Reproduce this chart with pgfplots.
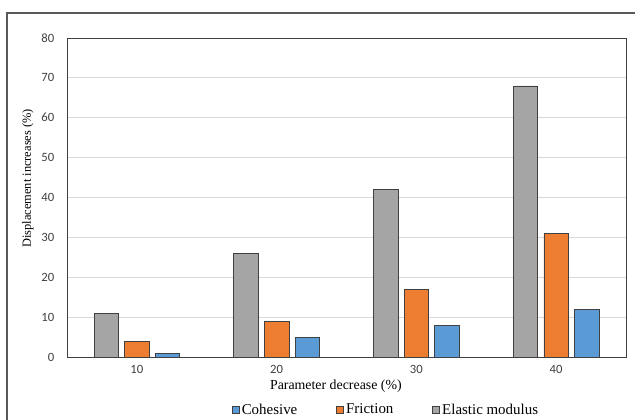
\documentclass[border=0pt]{standalone}
\usepackage{fontspec}
\setmainfont{Liberation Serif}
\newfontfamily\carlito{Carlito}
\usepackage{pgfplots}
\pgfplotsset{compat=1.18}
\definecolor{cgray}{HTML}{A5A5A5}
\definecolor{corange}{HTML}{ED7D31}
\definecolor{cblue}{HTML}{5B9BD5}
\definecolor{cgrid}{HTML}{D9D9D9}
\definecolor{caxis}{HTML}{404040}
\definecolor{cframe}{HTML}{595959}
\definecolor{ctick}{HTML}{404040}
\begin{document}
\begin{tikzpicture}
\useasboundingbox (0,0) rectangle (635*0.75pt,-419*0.75pt);
\draw[cframe, line width=1.1pt] (7*0.75pt,-430*0.75pt) -- (7*0.75pt,-13*0.75pt) -- (640*0.75pt,-13*0.75pt);
\begin{axis}[
  at={(67*0.75pt,-357*0.75pt)}, anchor=origin,
  scale only axis,
  width=559*0.75pt, height=319*0.75pt,
  xmin=0.5, xmax=4.5, ymin=0, ymax=80,
  xtick={1,2,3,4}, xticklabels={10,20,30,40},
  ytick={0,10,...,80},
  major tick length=0pt,
  ymajorgrids, grid style={cgrid, line width=0.6pt},
  axis line style={caxis, line width=0.7pt},
  /pgf/number format/assume math mode=true,
  tick label style={font=\carlito\fontsize{9.5}{11}\selectfont, text=ctick},
  yticklabel style={xshift=-6pt},
  xticklabel style={yshift=-3pt},
  ylabel={Displacement increases (\%)},
  ylabel style={at={(rel axis cs:-0.0698,0.56)}, anchor=center, rotate=0, font=\fontsize{9.3}{11}\selectfont},
  xlabel={Parameter decrease (\%)},
  xlabel style={at={(rel axis cs:0.481,-0.092)}, anchor=center, font=\fontsize{10.4}{12}\selectfont},
  ybar, bar width=0.175,
  legend columns=3,
  legend style={at={(rel axis cs:0.571,-0.166)}, anchor=center, draw=none, fill=none,
    font=\fontsize{11.2}{13}\selectfont, inner sep=0pt, outer sep=0pt,
    /tikz/every even column/.append style={column sep=27pt},
    /tikz/every odd column/.append style={column sep=0pt}},
  legend image code/.code={\draw[#1, draw=caxis, line width=0.4pt] (0pt,-2.6pt) rectangle (5.2pt,2.6pt);},
]
\addplot[fill=cblue, draw=caxis, line width=0.5pt, bar shift=0.219] coordinates {(1,1) (2,5) (3,8) (4,12)};
\addplot[fill=corange, draw=caxis, line width=0.5pt, bar shift=0] coordinates {(1,4) (2,9) (3,17) (4,31)};
\addplot[fill=cgray, draw=caxis, line width=0.5pt, bar shift=-0.219] coordinates {(1,11) (2,26) (3,42) (4,68)};
\legend{Cohesive,Friction,Elastic modulus}
\end{axis}
\end{tikzpicture}
\end{document}
